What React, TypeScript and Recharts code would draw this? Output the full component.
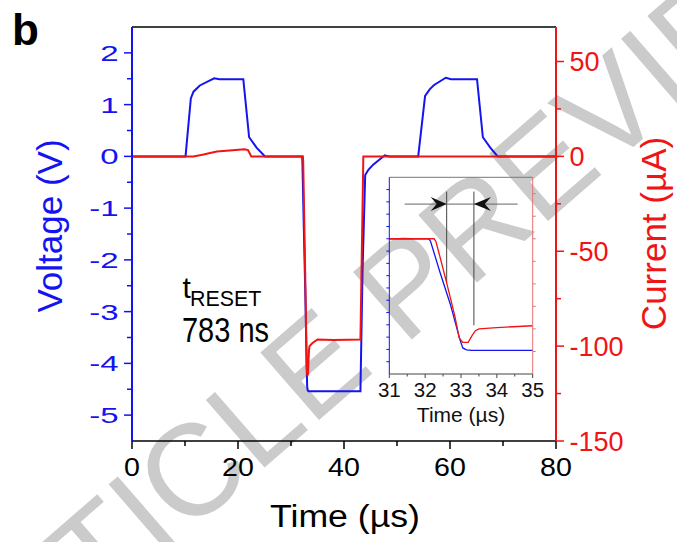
import React from 'react';
import { LineChart, Line, XAxis, YAxis, ReferenceLine, ReferenceDot } from 'recharts';

const BLUE = '#1414f0';
const RED = '#f01414';
const FONT = '"Liberation Sans", Arial, Helvetica, sans-serif';

// voltage trace (V) against time (µs)
const voltTime = [0, 10.1, 11.1, 11.6, 12.8, 15.5, 16.5, 21.0, 22.1, 23.5, 25.1, 32.1, 32.15, 32.4, 32.7, 32.97, 33.05, 33.15, 33.3, 43.1, 43.5, 44.0, 44.6, 45.5, 46.6, 47.7, 48.5, 54.0, 55.3, 56.2, 57.0, 59.2, 60.2, 65.1, 66.2, 67.6, 69.0, 80];
const voltValue = [0, 0, 1.12, 1.25, 1.37, 1.51, 1.49, 1.49, 0.37, 0.17, 0, 0, -0.1, -1.3, -2.65, -4.1, -4.44, -4.52, -4.54, -4.54, -2.2, -0.36, -0.26, -0.16, -0.07, 0.02, 0, 0, 1.17, 1.3, 1.38, 1.52, 1.49, 1.49, 0.37, 0.17, 0, 0];

// current trace (µA) against time (µs)
const currTime = [0, 11.6, 13.5, 16.0, 19.0, 21.2, 21.9, 22.5, 32.25, 32.3, 32.4, 32.6, 32.83, 32.95, 33.05, 33.2, 33.3, 33.4, 33.5, 34.0, 35.0, 38.0, 43.1, 43.65, 80];
const currValue = [0, 0, 1.0, 2.6, 3.2, 3.7, 3.3, 0, 0, -3, -18, -49, -86, -110, -115, -115, -108, -102, -100, -98.5, -96.5, -96.8, -96.5, 0, 0];

const timeTicks = [0, 10, 20, 30, 40, 50, 60, 70, 80];
const voltTicks = [-5, -4.5, -4, -3.5, -3, -2.5, -2, -1.5, -1, -0.5, 0, 0.5, 1, 1.5, 2];
const currTicks = [-150, -125, -100, -75, -50, -25, 0, 25, 50];
const insetTimeTicks = [31, 31.5, 32, 32.5, 33, 33.5, 34, 34.5, 35];
const insetCurrTicks = [-125, -100, -75, -50, -25, 0, 25, 50];

const voltDomain = [-5.5, 2.5];
const currDomain = [-150, (150 * 2.5) / 5.5];
const insetTimeDomain = [31, 35];

// inset markers: the two edges of t_RESET and the arrow row
const resetEdges = [32.6, 33.36];
const edgeTop = [1.92, 1.92];
const edgeBottom = [-1.8, -3.52];
const arrowRow = 1.41;
const arrowSpan = [31.43, 34.58];

const voltData = voltTime.map((t, i) => ({ t, v: voltValue[i] }));
const currData = currTime.map((t, i) => ({ t, c: currValue[i] }));

const LeftTick = (props: any) => {
  const { x, y, payload } = props;
  const major = Number.isInteger(payload.value);
  return (
    <g>
      <line x1={x - (major ? 8 : 5)} x2={x} y1={y} y2={y} stroke={BLUE} strokeWidth={1.5} />
      {major && (
        <text transform={`translate(${x - 13.5},${y}) scale(1.5,1)`} textAnchor="end" dy="0.36em"
          fontSize={22} fill={BLUE} fontFamily={FONT}>{payload.value}</text>
      )}
    </g>
  );
};

const RightTick = (props: any) => {
  const { x, y, payload } = props;
  const major = payload.value % 50 === 0;
  return (
    <g>
      <line x1={x} x2={x + (major ? 8 : 5)} y1={y} y2={y} stroke={RED} strokeWidth={1.5} />
      {major && (
        <text x={x + 13.5} y={y} dy="0.36em" fontSize={27} fill={RED} fontFamily={FONT}>{payload.value}</text>
      )}
    </g>
  );
};

const BottomTick = (props: any) => {
  const { x, y, payload } = props;
  const major = payload.value % 20 === 0;
  return (
    <g>
      <line x1={x} x2={x} y1={y} y2={y + (major ? 8 : 5)} stroke="#000" strokeWidth={1.5} />
      {major && (
        <text transform={`translate(${x},${y + 26}) scale(1.1,1)`} textAnchor="middle" dy="0.36em"
          fontSize={26} fill="#000" fontFamily={FONT}>{payload.value}</text>
      )}
    </g>
  );
};

const InsetLeftTick = (props: any) => {
  const { x, y } = props;
  return <line x1={x - 3} x2={x} y1={y} y2={y} stroke={BLUE} strokeWidth={1} />;
};

const InsetRightTick = (props: any) => {
  const { x, y } = props;
  return <line x1={x} x2={x + 3} y1={y} y2={y} stroke="#e87070" strokeWidth={1} />;
};

const InsetBottomTick = (props: any) => {
  const { x, y, payload } = props;
  const major = Number.isInteger(payload.value);
  return (
    <g>
      <line x1={x} x2={x} y1={y} y2={y + (major ? 4 : 2.5)} stroke="#444" strokeWidth={1} />
      {major && (
        <text x={x} y={y + 23.3} textAnchor="middle" fontSize={20.5} fill="#111" fontFamily={FONT}>{payload.value}</text>
      )}
    </g>
  );
};

const RightArrow = (props: any) => {
  const { cx, cy } = props;
  return <polygon points={`${cx},${cy} ${cx - 16},${cy - 7} ${cx - 10},${cy} ${cx - 16},${cy + 7}`} fill="#111" />;
};

const LeftArrow = (props: any) => {
  const { cx, cy } = props;
  return <polygon points={`${cx},${cy} ${cx + 17},${cy - 7} ${cx + 11},${cy} ${cx + 17},${cy + 7}`} fill="#111" />;
};

export default function App() {
  return (
    <div style={{ position: 'absolute', left: 0, top: 0, width: 677, height: 542, background: '#fff', fontFamily: FONT }}>
      {/* watermark */}
      <svg width={677} height={542} style={{ position: 'absolute', left: 0, top: 0 }}>
        <text x={410} y={341} transform="rotate(-41 410 341)" textAnchor="middle" fontSize={130}
          fill="#cbcbcb" fontFamily={FONT}>ARTICLE PREVIEW</text>
      </svg>

      <div style={{ position: 'absolute', left: 0, top: 0 }}>
        <LineChart width={677} height={542} margin={{ top: 27, right: 61, bottom: 61, left: 72 }}>
          <XAxis dataKey="t" type="number" domain={[0, 80]} ticks={timeTicks} interval={0} allowDataOverflow
            height={40} tickSize={0} tickMargin={0} tickLine={false}
            axisLine={{ stroke: '#000', strokeWidth: 1.5 }} tick={(p: any) => <BottomTick {...p} />} />
          <YAxis yAxisId="v" orientation="left" type="number" domain={voltDomain} ticks={voltTicks} interval={0}
            allowDataOverflow width={60} tickSize={0} tickMargin={0} tickLine={false}
            axisLine={{ stroke: BLUE, strokeWidth: 2 }} tick={(p: any) => <LeftTick {...p} />} />
          <YAxis yAxisId="c" orientation="right" type="number" domain={currDomain} ticks={currTicks} interval={0}
            allowDataOverflow width={60} tickSize={0} tickMargin={0} tickLine={false}
            axisLine={{ stroke: RED, strokeWidth: 2 }} tick={(p: any) => <RightTick {...p} />} />
          <ReferenceLine yAxisId="v" y={voltDomain[1]} stroke="#000" strokeWidth={1.5} />
          <Line data={voltData} dataKey="v" yAxisId="v" type="linear" stroke={BLUE} strokeWidth={2}
            dot={false} isAnimationActive={false} />
          <Line data={currData} dataKey="c" yAxisId="c" type="linear" stroke={RED} strokeWidth={2}
            dot={false} isAnimationActive={false} />
        </LineChart>
      </div>

      {/* inset: zoom on the reset edge */}
      <div style={{ position: 'absolute', left: 365, top: 170 }}>
        <LineChart width={180} height={260} margin={{ top: 7.3, right: 9.3, bottom: 0, left: 21.3 }}>
          <XAxis dataKey="t" type="number" domain={insetTimeDomain} ticks={insetTimeTicks} interval={0} allowDataOverflow
            height={56} tickSize={0} tickMargin={0} tickLine={false}
            axisLine={{ stroke: '#444', strokeWidth: 1 }} tick={(p: any) => <InsetBottomTick {...p} />} />
          <YAxis yAxisId="v" orientation="left" type="number" domain={voltDomain} ticks={voltTicks} interval={0}
            allowDataOverflow width={3} tickSize={0} tickMargin={0} tickLine={false}
            axisLine={{ stroke: BLUE, strokeWidth: 1 }} tick={(p: any) => <InsetLeftTick {...p} />} />
          <YAxis yAxisId="c" orientation="right" type="number" domain={currDomain} ticks={insetCurrTicks} interval={0}
            allowDataOverflow width={3} tickSize={0} tickMargin={0} tickLine={false}
            axisLine={{ stroke: '#e87070', strokeWidth: 1 }} tick={(p: any) => <InsetRightTick {...p} />} />
          <ReferenceLine yAxisId="v" y={voltDomain[1]} stroke="#777" strokeWidth={1} />
          {resetEdges.map((t, i) => (
            <ReferenceLine key={t} yAxisId="v" stroke="#444" strokeWidth={1}
              segment={[{ x: t, y: edgeTop[i] }, { x: t, y: edgeBottom[i] }]} />
          ))}
          <ReferenceLine yAxisId="v" stroke="#666" strokeWidth={1}
            segment={[{ x: arrowSpan[0], y: arrowRow }, { x: arrowSpan[1], y: arrowRow }]} />
          <ReferenceDot yAxisId="v" x={resetEdges[0]} y={arrowRow} r={1} shape={(p: any) => <RightArrow {...p} />} />
          <ReferenceDot yAxisId="v" x={resetEdges[1]} y={arrowRow} r={1} shape={(p: any) => <LeftArrow {...p} />} />
          <Line data={voltData} dataKey="v" yAxisId="v" type="linear" stroke={BLUE} strokeWidth={1.3}
            dot={false} isAnimationActive={false} />
          <Line data={currData} dataKey="c" yAxisId="c" type="linear" stroke={RED} strokeWidth={1.3}
            dot={false} isAnimationActive={false} />
        </LineChart>
      </div>

      {/* titles and annotations */}
      <svg width={677} height={542} style={{ position: 'absolute', left: 0, top: 0, pointerEvents: 'none' }} fontFamily={FONT}>
        <text x={12} y={45} fontSize={44} fontWeight="bold" fill="#000">b</text>
        <text transform="translate(62,226) rotate(-90)" textAnchor="middle" fontSize={35} fill={BLUE}>Voltage (V)</text>
        <text transform="translate(666,233.5) rotate(-90)" textAnchor="middle" fontSize={35} fill={RED}>Current (µA)</text>
        <text x={345} y={527} textAnchor="middle" fontSize={31} textLength={150} lengthAdjust="spacingAndGlyphs" fill="#000">Time (µs)</text>
        <text x={182.5} y={298.3} fontSize={30} fill="#000">t</text>
        <text x={190} y={306} fontSize={21.4} fill="#000">RESET</text>
        <text x={182} y={341.7} fontSize={35} textLength={87} lengthAdjust="spacingAndGlyphs" fill="#000">783 ns</text>
        <text x={461} y={421.7} textAnchor="middle" fontSize={21} fill="#111">Time (µs)</text>
      </svg>
    </div>
  );
}
